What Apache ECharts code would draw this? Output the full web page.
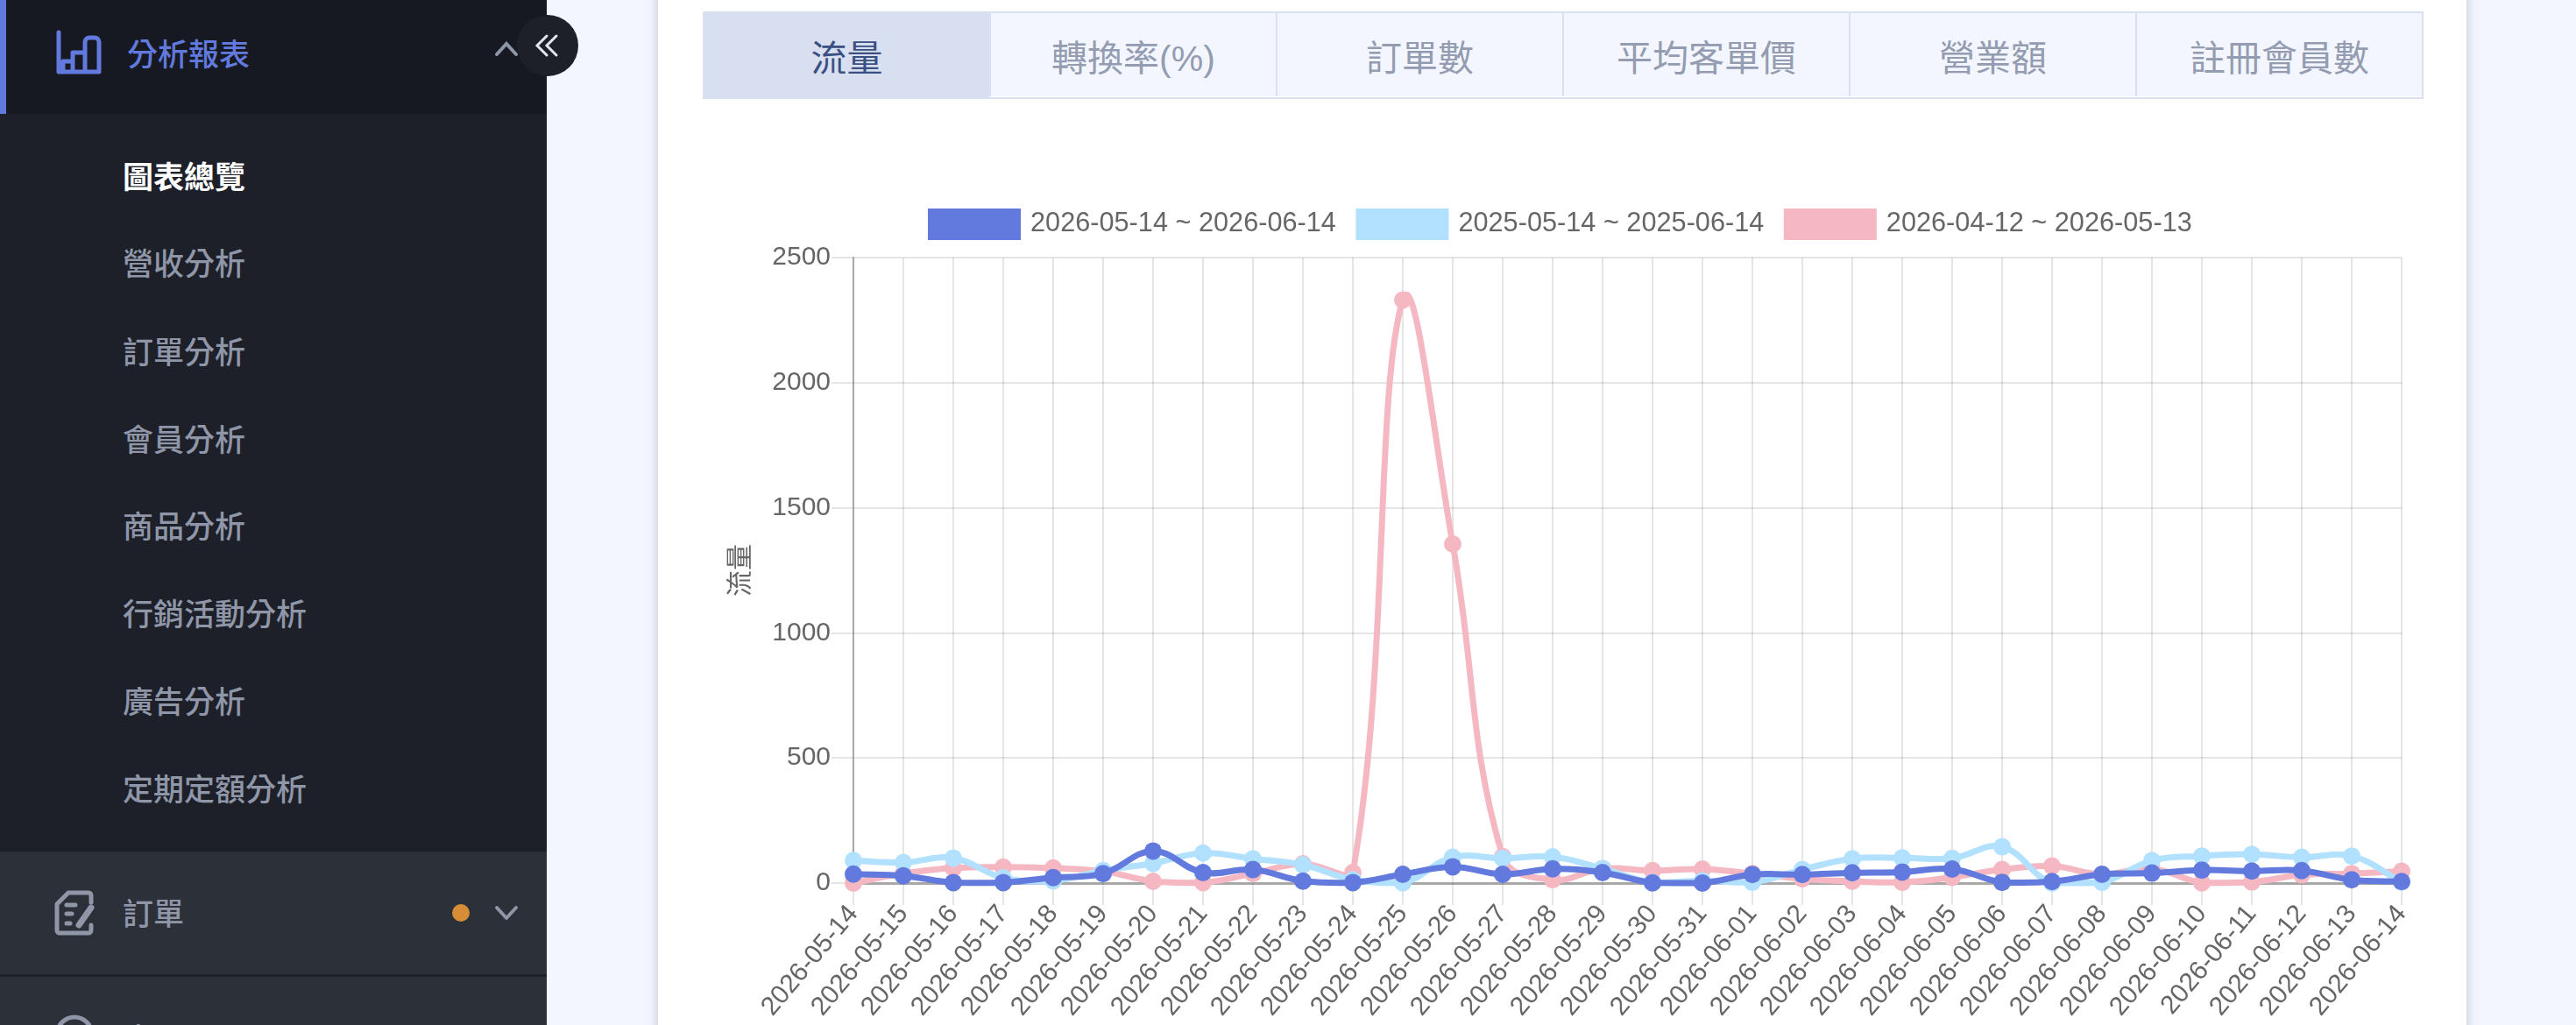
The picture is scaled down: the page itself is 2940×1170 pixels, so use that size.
<!DOCTYPE html>
<html lang="zh-Hant">
<head>
<meta charset="utf-8">
<title>圖表總覽</title>
<script src="https://cdn.jsdelivr.net/npm/echarts@6/dist/echarts.min.js"></script>
<style>
  html, body { margin: 0; width: 2940px; height: 1170px; overflow: hidden; background: #f3f6fe;
    font-family: "Noto Sans CJK TC", "Noto Sans", sans-serif; }
  #side { position: absolute; left: 0; top: 0; width: 624px; height: 1170px; background: #1d2029; }
  #side .head { position: absolute; left: 0; top: 0; width: 624px; height: 130px; background: #161922; }
  #side .accent { position: absolute; left: 0; top: 0; width: 7px; height: 130px; background: #6279dd; }
  #side .low { position: absolute; left: 0; top: 972px; width: 624px; height: 198px; background: #2c3039; }
  #side .rule { position: absolute; left: 0; top: 1112px; width: 624px; height: 3px; background: #1d2029; }
  .t { position: absolute; font-size: 35px; line-height: 40px; font-weight: 500; color: #8f96a8; white-space: nowrap; }
  .sub { left: 140px; }
  #toggle { position: absolute; left: 590px; top: 17px; width: 70px; height: 70px; border-radius: 50%; background: #1d2029; }
  svg { position: absolute; overflow: visible; }
  #card { position: absolute; left: 751px; top: -20px; width: 2064px; height: 1210px; background: #fff;
    box-shadow: 0 0 12px rgba(90,100,130,.35); }
  #tabs { position: absolute; left: 802px; top: 13px; width: 1964px; height: 100px; display: flex; box-sizing: border-box;
    border: 2px solid #d9e0f1; background: #fff; }
  #tabs div { flex: 1; display: flex; align-items: center; justify-content: center; font-size: 41px; color: #949cb1;
    font-family: "Liberation Sans", "Noto Sans CJK TC", sans-serif;
    background: #f3f6fe; border-left: 2px solid #d9e0f1; margin-bottom: 1px; }
  #tabs div:first-child { background: #d8dff0; color: #3a5083; border-left: 0; margin-bottom: 0; }
  #chart { position: absolute; left: 752px; top: 120px; width: 2060px; height: 1050px; }
</style>
</head>
<body>
<div id="side">
  <div class="head"></div><div class="accent"></div>
  <svg style="left:0;top:0" width="624" height="130" fill="none" stroke="#6279dd" stroke-width="5" stroke-linejoin="round" stroke-linecap="round">
    <path d="M67 37V82H113V48a5 5 0 0 0-5-5h-6a5 5 0 0 0-5 5V82M97 82V60h-14v22M83 70H72v12"/>
  </svg>
  <div class="t" style="left:145px;top:40px;color:#6279dd">分析報表</div>
  <svg style="left:0;top:0" width="624" height="130" fill="none" stroke="#8f96a8" stroke-width="4" stroke-linecap="round">
    <path d="M567 62L578 50L589 62"/>
  </svg>
  <div class="t sub" style="top:180px;color:#fff;font-weight:700">圖表總覽</div>
  <div class="t sub" style="top:279px">營收分析</div>
  <div class="t sub" style="top:380px">訂單分析</div>
  <div class="t sub" style="top:480px">會員分析</div>
  <div class="t sub" style="top:579px">商品分析</div>
  <div class="t sub" style="top:679px">行銷活動分析</div>
  <div class="t sub" style="top:779px">廣告分析</div>
  <div class="t sub" style="top:879px">定期定額分析</div>
  <div class="low"></div><div class="rule"></div>
  <svg style="left:0;top:0" width="624" height="1170" fill="none" stroke="#8f96a8" stroke-width="5" stroke-linecap="round" stroke-linejoin="round">
    <path d="M104 1030V1022a3 3 0 0 0-3-3H78L65 1032V1062a3 3 0 0 0 3 3H101a3 3 0 0 0 3-3V1056"/>
    <path d="M76 1033h10M76 1043h6M76 1054h4"/>
    <path d="M90 1056L104 1036" stroke-width="7"/>
    <path d="M567 1036L578 1048L589 1036" stroke-width="4"/>
    <circle cx="85" cy="1181" r="20"/>
  </svg>
  <div class="t sub" style="top:1021px">訂單</div>
  <div style="position:absolute;left:516px;top:1032px;width:20px;height:20px;border-radius:50%;background:#d68d36"></div>
  <div class="t sub" style="top:1164px">會員</div>
</div>
<div id="card"></div>
<div id="toggle"></div>
<svg style="left:0;top:0" width="700" height="110" fill="none" stroke="#e4e6ec" stroke-width="3" stroke-linecap="round">
  <path d="M624 41L613 52L624 63M635 41L624 52L635 63"/>
</svg>
<div id="tabs"><div>流量</div><div>轉換率(%)</div><div>訂單數</div><div>平均客單價</div><div>營業額</div><div>註冊會員數</div></div>
<div id="chart"></div>
<script>
// Daily traffic for the current range and its two comparison ranges.
const dates = ['2026-05-14','2026-05-15','2026-05-16','2026-05-17','2026-05-18','2026-05-19','2026-05-20','2026-05-21',
  '2026-05-22','2026-05-23','2026-05-24','2026-05-25','2026-05-26','2026-05-27','2026-05-28','2026-05-29','2026-05-30',
  '2026-05-31','2026-06-01','2026-06-02','2026-06-03','2026-06-04','2026-06-05','2026-06-06','2026-06-07','2026-06-08',
  '2026-06-09','2026-06-10','2026-06-11','2026-06-12','2026-06-13','2026-06-14'];
const currentRange = [36,29,2,2,22,38,128,42,54,8,2,35,65,35,57,42,1,0,34,34,41,44,56,3,6,35,40,52,48,50,13,6];
const lastYearRange = [90,82,100,21,9,50,79,120,97,73,13,1,103,99,105,58,3,9,3,54,97,101,99,145,0,3,90,108,115,103,108,4];
const previousRange = [0,38,60,64,60,47,7,2,38,77,42,2330,1355,106,13,58,50,56,38,17,7,3,23,54,68,35,58,1,4,33,38,47];
const legendNames = ['2026-05-14 ~ 2026-06-14','2025-05-14 ~ 2025-06-14','2026-04-12 ~ 2026-05-13'];
const yTicks = { min: 0, max: 2500, step: 500 };
const axisName = '流量';

const textColor = '#666';
const fontFamily = '"Liberation Sans", Arial, sans-serif';
const gridColor = 'rgba(0,0,0,0.1)';
const TENSION = 0.4;

// One cubic segment per data index; control points follow the neighbouring
// points in pixel space and are capped to the plot area, so a sharp spike may
// overshoot sideways, which the built-in line smoothing would flatten.
function splineSegment(values, color) {
  return function (params, api) {
    const i = params.dataIndex;
    if (i >= values.length - 1) return null;
    const last = values.length - 1;
    const at = k => {
      const n = Math.max(0, Math.min(last, k));
      return api.coord([n, values[n]]);
    };
    const top = api.coord([0, yTicks.max])[1];
    const bottom = api.coord([0, yTicks.min])[1];
    const cap = y => Math.max(top, Math.min(bottom, y));
    const a = at(i), b = at(i + 1);
    const c1 = tangent(at(i - 1), a, b, 1);
    const c2 = tangent(a, b, at(i + 2), -1);
    return {
      type: 'bezierCurve',
      shape: { x1: a[0], y1: a[1], cpx1: c1[0], cpy1: cap(c1[1]), cpx2: c2[0], cpy2: cap(c2[1]), x2: b[0], y2: b[1] },
      style: { fill: null, stroke: color, lineWidth: 7, lineCap: 'round' },
      silent: true
    };
  };
}

function tangent(prev, cur, next, dir) {
  const d01 = Math.hypot(cur[0] - prev[0], cur[1] - prev[1]);
  const d12 = Math.hypot(next[0] - cur[0], next[1] - cur[1]);
  const total = (d01 + d12) || 1;
  const f = TENSION * (dir > 0 ? d12 : d01) / total;
  return [cur[0] + dir * f * (next[0] - prev[0]), cur[1] + dir * f * (next[1] - prev[1])];
}

function seriesPair(name, values, color, z) {
  return [
    {
      type: 'custom', z, renderItem: splineSegment(values, color), silent: true, clip: false,
      data: values.map((v, i) => [i, v]), encode: { x: 0, y: 1 }
    },
    {
      name, type: 'line', z, data: values, clip: false, symbol: 'circle', symbolSize: 20, showSymbol: true,
      lineStyle: { color, width: 0, opacity: 0 }, itemStyle: { color }
    }
  ];
}

const chart = echarts.init(document.getElementById('chart'), null, { renderer: 'canvas' });
chart.setOption({
  animation: false,
  backgroundColor: 'transparent',
  legend: {
    left: 302, top: 113, itemWidth: 106, itemHeight: 36, itemGap: 22.5, icon: 'rect',
    data: legendNames.map((name, i) => ({ name, itemStyle: { color: ['#6279dd', '#b1e1ff', '#f5b8c2'][i] } })),
    textStyle: { color: textColor, fontSize: 30.7, fontFamily, padding: [0, 0, 0, 6] }
  },
  grid: { left: 222, top: 174, width: 1767, height: 714 },
  xAxis: {
    type: 'category', data: dates, boundaryGap: false,
    axisLine: { onZero: true, lineStyle: { color: '#a8a8a8', width: 3 } },
    axisTick: { show: true, alignWithLabel: true, length: 25, lineStyle: { color: gridColor, width: 2 } },
    axisLabel: { interval: 0, rotate: 50, margin: 30, color: textColor, fontSize: 30, fontFamily, hideOverlap: false },
    splitLine: { show: true, interval: 0, lineStyle: { color: gridColor, width: 2 } }
  },
  yAxis: {
    type: 'value', min: yTicks.min, max: yTicks.max, interval: yTicks.step,
    name: axisName, nameLocation: 'middle', nameGap: 116, nameRotate: 90,
    nameTextStyle: { color: textColor, fontSize: 30, fontFamily: '"Noto Sans CJK TC", sans-serif' },
    axisLine: { show: true, lineStyle: { color: '#a8a8a8', width: 2 } },
    axisTick: { show: true, length: 25, lineStyle: { color: gridColor, width: 2 } },
    axisLabel: { margin: 26, color: textColor, fontSize: 30, fontFamily, formatter: v => String(v), padding: [8, 0, 0, 0] },
    splitLine: { show: true, lineStyle: { color: gridColor, width: 2 } }
  },
  // Drawn back to front: the current range stays on top.
  series: [
    ...seriesPair(legendNames[2], previousRange, '#f5b8c2', 2),
    ...seriesPair(legendNames[1], lastYearRange, '#b1e1ff', 3),
    ...seriesPair(legendNames[0], currentRange, '#6279dd', 4)
  ]
});
</script>
</body>
</html>
